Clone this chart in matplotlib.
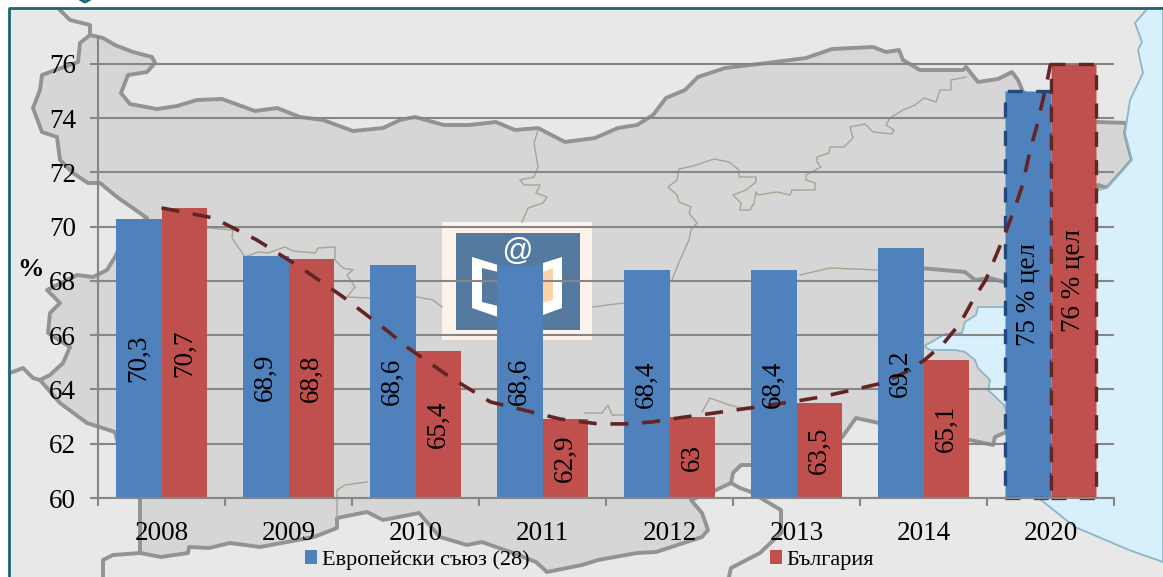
import matplotlib
matplotlib.use("Agg")
import matplotlib.pyplot as plt
from matplotlib.patches import Polygon, Rectangle

plt.rcParams['font.family'] = ['Liberation Serif', 'DejaVu Serif']

# ---- chart data ----
categories = ['2008', '2009', '2010', '2011', '2012', '2013', '2014', '2020']
eu_values = [70.3, 68.9, 68.6, 68.6, 68.4, 68.4, 69.2, 75]
bg_values = [70.7, 68.8, 65.4, 62.9, 63, 63.5, 65.1, 76]
eu_labels = ['70,3', '68,9', '68,6', '68,6', '68,4', '68,4', '69,2', '75 % цел']
bg_labels = ['70,7', '68,8', '65,4', '62,9', '63', '63,5', '65,1', '76 % цел']
series_names = ['Европейски съюз (28)', 'България']
y_ticks = [60, 62, 64, 66, 68, 70, 72, 74, 76]
trend_x = [0.00, .41, .75, 1.09, 1.43, 1.80, 1.93, 2.27, 2.59, 3.14, 3.44, 3.65, 3.86, 4.07, 4.35,
           4.74, 5.01, 5.19, 5.44, 5.68, 5.86, 6.01, 6.16, 6.29, 6.39, 6.49, 6.58, 6.66, 6.74,
           6.78, 6.84, 6.89, 6.94, 6.98, 7.00]
trend_y = [70.69, 70.32, 69.51, 68.51, 67.41, 66.08, 65.57, 64.46, 63.54, 62.91, 62.73, 62.73,
           62.80, 62.95, 63.13, 63.39, 63.58, 63.72, 63.98, 64.24, 64.64, 65.09, 65.71, 66.45,
           67.30, 68.04, 69.03, 69.95, 70.98, 71.54, 72.83, 73.67, 74.67, 75.52, 76.0]

# ---- decorative background map, in picture pixels ----
land = [(90,35),(103,38),(115,45),(133,52),(152,57),(155,63),(147,72),(128,75),(121,93),(130,104),
        (157,109),(177,106),(197,100),(222,99),(255,111),(277,108),(300,117),(323,120),(353,131),
        (383,128),(400,120),(415,117),(444,125),(469,125),(496,122),(515,130),(538,128),(565,142),
        (595,138),(618,128),(637,125),(653,115),(666,98),(685,90),(698,77),(725,68),(767,63),
        (806,58),(832,49),(873,47),(886,52),(899,50),(903,60),(920,70),(963,70),(966,67),(978,82),
        (998,79),(1012,72),(1018,80),(1023,92),(1060,110),(1097,122),(1127,123),(1125,133),(1132,160),
        (1117,177),(1107,188),(1098,185),(1050,400),(1004,433),(995,437),(993,445),(970,440),(924,440),
        (879,423),(856,418),(843,436),(830,450),(770,465),(751,465),(741,465),(733,473),(731,483),
        (716,490),(691,500),(702,513),(708,530),(702,537),(656,552),(637,553),(598,560),(582,565),
        (547,572),(536,562),(513,553),(482,542),(467,545),(440,537),(419,513),(383,520),(367,512),
        (337,518),(337,528),(314,537),(287,542),(260,547),(230,543),(209,548),(189,547),(188,553),
        (161,557),(140,553),(140,498),(125,470),(115,432),(87,423),(60,403),(40,380),(50,375),(63,363),
        (70,347),(48,333),(50,313),(60,303),(47,290),(77,275),(93,277),(107,270),(115,257),(125,235),
        (147,218),(117,197),(100,183),(88,183),(73,173),(60,160),(57,137),(42,132),(33,108),(40,90),
        (42,75),(78,62),(80,43)]
sea = [(1148,8),(1163,8),(1163,562),(1129,550),(1075,527),(1041,500),(1004,405),(988,390),(990,380),
       (978,368),(975,360),(965,352),(955,350),(930,350),(924,346),(935,340),(945,334),(962,333),
       (965,322),(976,315),(978,307),(1004,307),(1060,300),(1098,190),(1107,188),(1117,177),(1132,160),
       (1125,133),(1127,120),(1130,100),(1143,73),(1138,50),(1142,42),(1135,23)]
extra_thick = [[(60,10),(70,20),(90,25),(90,35)],
               [(10,373),(23,368),(33,378),(40,380)],
               [(140,553),(113,555),(103,560),(103,577)],
               [(751,492),(740,488),(731,483)],
               [(751,492),(764,500),(781,510),(781,533),(760,553),(731,568),(729,577)],
               [(920,268),(965,272),(975,280),(990,278),(1004,282)]]
thin_lines = [[(538,130),(534,143),(538,167),(534,177),(520,180),(524,185),(540,185),(536,193),(547,197),
               (543,203),(528,208),(522,222)],
              [(966,77),(951,80),(951,90),(940,90),(936,102),(924,98),(915,105),(903,110),(890,118),(886,125),
               (894,130),(892,134),(873,132),(865,124),(850,127),(853,138),(844,147),(830,147),(829,153),
               (817,157),(817,162),(821,167),(806,175),(806,180),(815,183),(815,190),(792,190),(790,195),
               (777,192),(758,195),(756,192),(754,203),(750,210),(740,210),(741,203),(733,195),(746,190),
               (756,182),(756,177),(739,177),(739,170),(729,162),(714,159),(693,166),(679,169),(677,180),
               (668,187),(677,195),(679,202),(691,207),(689,213),(697,223),(691,230),(689,240),(680,260),
               (672,280),(650,300),(607,305),(593,307)],
              [(208,228),(233,230),(232,238),(245,257),(258,252),(268,253),(285,247),(293,251),(315,253),
               (318,248),(335,247),(335,260),(343,268),(353,270),(347,275),(355,287),(347,297),(370,298),
               (417,297),(433,300),(442,307)],
              [(585,413),(602,413),(608,405),(612,415),(623,415)],
              [(702,412),(710,398),(729,405),(751,410)],
              [(337,518),(337,490),(345,485),(367,482)],
              [(800,275),(830,268),(878,270)]]
book_left = [(472,257),(498,265),(498,317),(472,308)]
book_left_in = [(482,268),(498,272),(498,306),(482,302)]
book_right = [(562,257),(543,263),(543,315),(562,308)]
book_right_in = [(553,268),(543,272),(543,303),(553,300)]

fig = plt.figure(figsize=(11.63, 5.77), dpi=100, facecolor='white')

# background layer
bg = fig.add_axes([0, 0, 1, 1], zorder=0)
bg.set_xlim(0, 1163)
bg.set_ylim(577, 0)
bg.axis('off')
bg.add_patch(Rectangle((9, 8), 1154, 569, fc='#e8e8e8', ec='none'))
bg.add_patch(Polygon(land, closed=True, fc='#d6d6d6', ec='#939393', lw=2.8, joinstyle='round'))
bg.add_patch(Polygon(sea, closed=True, fc='#d8effc', ec='#8db5c8', lw=1.3, joinstyle='round'))
for seg in extra_thick:
    xs, ys = zip(*seg)
    bg.plot(xs, ys, color='#939393', lw=2.8, solid_joinstyle='round')
for seg in thin_lines:
    xs, ys = zip(*seg)
    bg.plot(xs, ys, color='#a5a592', lw=1.0, solid_joinstyle='round')
bg.plot([9, 9, 1163], [577, 8, 8], color='#1f6473', lw=2.0)
bg.plot([81, 85, 89], [0, 2, 0], color='#1f6473', lw=2.0)
# logo
bg.add_patch(Rectangle((442, 222), 150, 118, fc='#fdf3ea', ec='none'))
bg.add_patch(Rectangle((456, 233), 124, 97, fc='#557a9f', ec='none'))
bg.add_patch(Polygon(book_left, closed=True, fc='white', ec='none'))
bg.add_patch(Polygon(book_left_in, closed=True, fc='#557a9f', ec='none'))
bg.add_patch(Polygon(book_right, closed=True, fc='white', ec='none'))
bg.add_patch(Polygon(book_right_in, closed=True, fc='#fbd3a8', ec='none'))
bg.text(517, 252, '@', color='white', fontsize=22, style='italic', family='Liberation Sans',
        ha='center', va='center')
bg.text(30, 270, '%', color='black', fontsize=19, weight='bold', ha='center', va='center')

# chart layer
L, R, T, B = 98, 1114, 36.7, 498
BASE = 60
ax = fig.add_axes([L/1163, 1-B/577, (R-L)/1163, (B-T)/577], zorder=1)
ax.patch.set_alpha(0)
xpos = list(range(len(categories)))
width = 0.36
bars_eu = ax.bar([x-width/2 for x in xpos], [v-BASE for v in eu_values], width, bottom=BASE,
                 color='#4f81bd', label=series_names[0], zorder=2)
bars_bg = ax.bar([x+width/2 for x in xpos], [v-BASE for v in bg_values], width, bottom=BASE,
                 color='#c0504d', label=series_names[1], zorder=2.1)
for bar, edge in ((bars_eu[-1], '#1f497d'), (bars_bg[-1], '#632523')):
    bar.set_edgecolor(edge)
    bar.set_linewidth(2.4)
    bar.set_linestyle((0, (4.5, 4)))
    bar.set_clip_on(False)
ax.bar_label(bars_eu, labels=eu_labels, label_type='center', rotation=90, fontsize=19.5, color='black', zorder=6)
ax.bar_label(bars_bg, labels=bg_labels, label_type='center', rotation=90, fontsize=19.5, color='black', zorder=6)
ax.plot(trend_x, trend_y, color='#632523', lw=2.6, linestyle=(0, (5, 3.8)), dash_capstyle='butt', zorder=4)

ax.set_xlim(-0.5, 7.5)
ax.set_ylim(60, 77)
ax.set_yticks(y_ticks)
ax.set_xticks(xpos)
ax.set_xticklabels(categories)
ax.set_xticks([x-0.5 for x in xpos] + [7.5], minor=True)
ax.yaxis.grid(True, color='#868686', lw=1.5, zorder=1)
ax.set_axisbelow(True)
ax.tick_params(axis='y', length=5.8, width=1.5, color='#868686', labelsize=19.5, pad=10)
ax.tick_params(axis='x', which='major', length=0, labelsize=19.5, pad=16.5)
ax.tick_params(axis='x', which='minor', length=5.8, width=1.5, color='#868686')
for s in ('top', 'right'):
    ax.spines[s].set_visible(False)
for s in ('left', 'bottom'):
    ax.spines[s].set_color('#868686')
    ax.spines[s].set_linewidth(1.5)

fig.legend(handles=[bars_eu, bars_bg], labels=series_names, ncol=2, frameon=False, fontsize=16,
           loc='center left', bbox_to_anchor=(305/1163, 1-560/577), borderaxespad=0, borderpad=0,
           handlelength=0.54, handleheight=0.54, handletextpad=0.23, columnspacing=10.8)

fig.savefig('out.png', dpi=100)
